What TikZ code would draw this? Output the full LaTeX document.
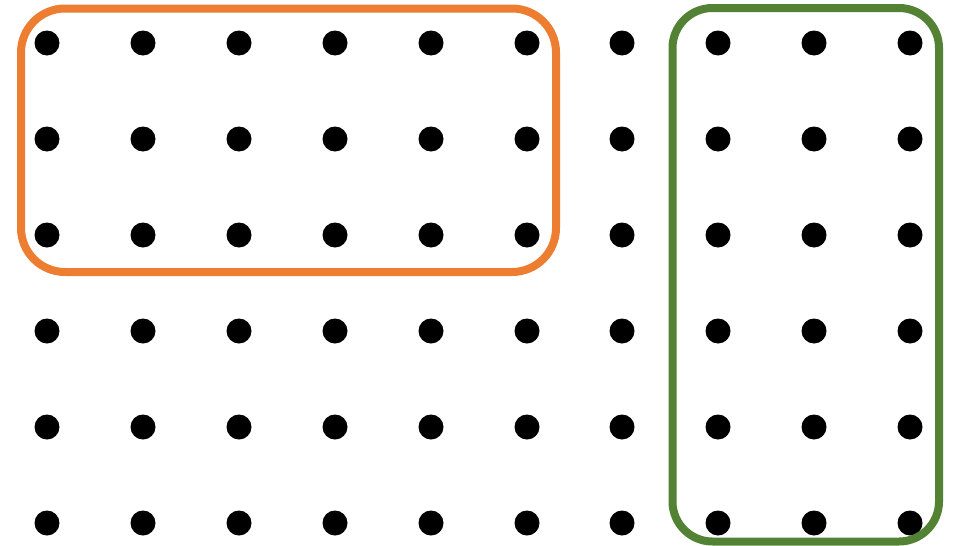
\documentclass[tikz,border=0pt]{standalone}
\definecolor{orng}{HTML}{ED7D31}
\definecolor{grn}{HTML}{548235}
\begin{document}
\begin{tikzpicture}[x=1pt,y=-1pt,
  dotnode/.style={circle,fill=black,inner sep=0pt,minimum size=25pt},
  frame/.style={line width=8pt}]
\useasboundingbox (0,0) rectangle (956,546);
\foreach \i [count=\c from 0] in {47,143,239,335,431,527,622,718,814,910}{
  \foreach \j [count=\r from 0] in {43,139,235,331,427,523}{
    \node[dotnode] (d-\c-\r) at (\i,\j) {};
  }
}
\draw[frame,orng,rounded corners=44pt] (21,8.5) rectangle (556,272);
\draw[frame,grn,rounded corners=40pt] (672.5,8) rectangle (939,541.5);
\end{tikzpicture}
\end{document}
